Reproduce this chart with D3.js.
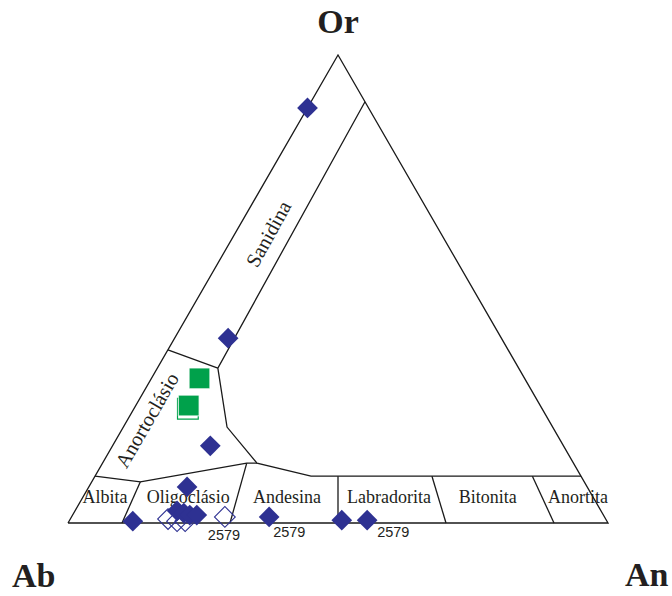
<!DOCTYPE html>
<html>
<head>
<meta charset="utf-8">
<script src="https://cdn.jsdelivr.net/npm/d3@7"></script>
<style>
  html, body { margin: 0; padding: 0; background: #fff; }
  svg { display: block; }
</style>
</head>
<body>
<svg id="chart" width="672" height="596"></svg>
<script>
// Feldspar ternary diagram (Ab - An - Or), values in percent (An, Or); Ab = 100 - An - Or.

// Vertex labels
const vertexLabels = ["Ab", "An", "Or"];

// Plagioclase field names along the Ab-An join
const fieldNames = ["Albita", "Oligoclásio", "Andesina", "Labradorita", "Bitonita", "Anortita"];
const fieldLabelAn = [4.7, 20.1, 38.4, 57.3, 75.6, 92.3];
const fieldLabelOr = 4.3;

// Alkali feldspar field names
const alkaliNames = ["Sanidina", "Anortoclásio"];

// Field boundaries, each a list of [An, Or] points
const outline = [[0, 0], [100, 0], [0, 100], [0, 0]];
const sanidineBoundary = [[10, 90], [11.2, 33.1], [19.2, 20.5], [28.6, 12.8], [40, 10], [90, 10]];
const anorthoclaseTop = [[0, 37], [11.2, 33.1]];
const albiteTop = [[0, 10], [9, 8.8], [26.7, 12.8], [28.6, 12.8]];
const plagioDividers = [
  [[10, 0], [9, 8.8]],
  [[30, 0], [26.7, 12.8]],
  [[50, 0], [45, 10]],
  [[70, 0], [62.4, 10]],
  [[90, 0], [81, 10]]
];

// Analyses: filled diamonds
const diamondAn = [0, 9.9, 18.1, 18.2, 11.8, 18.9, 20.4, 21.7, 23.0, 36.6, 50.4, 55.1];
const diamondOr = [88.7, 39.5, 16.5, 7.7, 0.4, 2.6, 2.1, 1.7, 1.7, 1.3, 0.6, 0.6];
// Analyses: open diamonds
const openDiamondAn = [18.1, 20.0, 21.5, 28.4];
const openDiamondOr = [0.85, 0.4, 0.4, 1.3];
// Analyses: squares (filled) and open square
const squareAn = [8.9, 9.8];
const squareOr = [30.9, 25.1];
const openSquareAn = [10.0];
const openSquareOr = [24.4];

// Sample tags
const tagText = ["2579", "2579", "2579"];

const svg = d3.select("#chart");
const navy = "#2e3192";
const green = "#00a14b";

// Horizontal position follows An + Or/2, vertical position follows Or
const xS = d3.scaleLinear().domain([0, 100]).range([68, 608]);
const yS = d3.scaleLinear().domain([0, 100]).range([523, 55]);
const proj = (an, or) => [xS(an + or / 2), yS(or)];

const line = d3.line().x(d => proj(d[0], d[1])[0]).y(d => proj(d[0], d[1])[1]);

const g = svg.append("g");
const stroke = { stroke: "#1a1a1a", "stroke-width": 1.3, fill: "none", "stroke-linejoin": "miter" };
function path(pts) {
  const p = g.append("path").attr("d", line(pts));
  Object.entries(stroke).forEach(([k, v]) => p.attr(k, v));
}
path(outline);
path(sanidineBoundary);
path(anorthoclaseTop);
path(albiteTop);
plagioDividers.forEach(path);

// Field labels
const serif = "'Liberation Serif', 'Times New Roman', serif";
g.selectAll("text.field").data(fieldNames).join("text")
  .attr("class", "field")
  .attr("x", (d, i) => proj(fieldLabelAn[i], fieldLabelOr)[0])
  .attr("y", (d, i) => proj(fieldLabelAn[i], fieldLabelOr)[1])
  .attr("text-anchor", "middle")
  .attr("font-family", serif)
  .attr("font-size", 18)
  .attr("fill", "#231f20")
  .text(d => d);

// Rotated alkali-feldspar labels
const alkaliPos = [[6.2, 61.8], [3.6, 22.0]];
const alkaliRot = [-61, -60];
g.selectAll("text.alk").data(alkaliNames).join("text")
  .attr("class", "alk")
  .attr("transform", (d, i) => {
    const [x, y] = proj(alkaliPos[i][0], alkaliPos[i][1]);
    return `translate(${x},${y}) rotate(${alkaliRot[i]})`;
  })
  .attr("text-anchor", "middle")
  .attr("dy", "0.35em")
  .attr("font-family", serif)
  .attr("font-size", 20.5)
  .attr("fill", "#231f20")
  .text(d => d);

// Vertex labels
const vertexPos = [[12, 587, "start"], [625, 586, "start"], [338, 33, "middle"]];
g.selectAll("text.vtx").data(vertexLabels).join("text")
  .attr("class", "vtx")
  .attr("x", (d, i) => vertexPos[i][0])
  .attr("y", (d, i) => vertexPos[i][1])
  .attr("text-anchor", (d, i) => vertexPos[i][2])
  .attr("font-family", serif)
  .attr("font-weight", "bold")
  .attr("font-size", 34)
  .attr("fill", "#231f20")
  .text(d => d);

// Markers
const diamond = d3.symbol().type(d3.symbolSquare).size(215)();
const square = d3.symbol().type(d3.symbolSquare).size(430)();

const openSq = openSquareAn.map((a, i) => proj(a, openSquareOr[i]));
g.selectAll("path.osq").data(openSq).join("path")
  .attr("class", "osq")
  .attr("d", square)
  .attr("transform", d => `translate(${d[0]},${d[1]})`)
  .attr("fill", "#fff").attr("stroke", green).attr("stroke-width", 1.2);

const sq = squareAn.map((a, i) => proj(a, squareOr[i]));
g.selectAll("path.sq").data(sq).join("path")
  .attr("class", "sq")
  .attr("d", square)
  .attr("transform", d => `translate(${d[0]},${d[1]})`)
  .attr("fill", green).attr("stroke", "#fff").attr("stroke-width", 0.8);

const od = openDiamondAn.map((a, i) => proj(a, openDiamondOr[i]));
g.selectAll("path.od").data(od).join("path")
  .attr("class", "od")
  .attr("d", diamond)
  .attr("transform", d => `translate(${d[0]},${d[1]}) rotate(45)`)
  .attr("fill", "none").attr("stroke", navy).attr("stroke-width", 1.1);

const fd = diamondAn.map((a, i) => proj(a, diamondOr[i]));
g.selectAll("path.fd").data(fd).join("path")
  .attr("class", "fd")
  .attr("d", diamond)
  .attr("transform", d => `translate(${d[0]},${d[1]}) rotate(45)`)
  .attr("fill", navy);

// Sample tags attached to analyses
const tagAnchors = [od[3], fd[9], fd[11]];
const tagOffsets = [[-17, 23], [4, 20], [10, 17]];
g.selectAll("text.tag").data(tagText).join("text")
  .attr("class", "tag")
  .attr("x", (d, i) => tagAnchors[i][0] + tagOffsets[i][0])
  .attr("y", (d, i) => tagAnchors[i][1] + tagOffsets[i][1])
  .attr("font-family", "'Liberation Sans', Arial, sans-serif")
  .attr("font-size", 14.5)
  .attr("fill", "#231f20")
  .text(d => d);
</script>
</body>
</html>
